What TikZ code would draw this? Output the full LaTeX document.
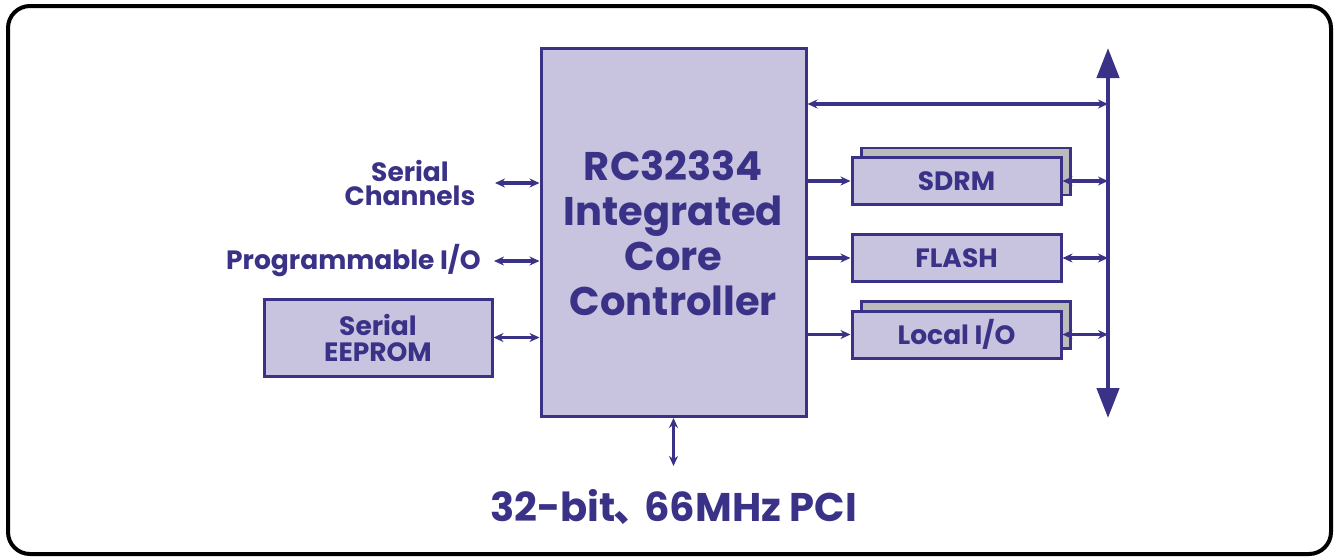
\documentclass[tikz,border=0pt]{standalone}
\usepackage{fontspec}
\setmainfont{Poppins}
\newfontfamily\cjk{Noto Sans CJK SC}
\usetikzlibrary{arrows.meta}
\definecolor{ink}{HTML}{3A3287}
\definecolor{chip}{HTML}{C8C4E0}
\definecolor{shade}{HTML}{BBBBBB}
\tikzset{
	blk/.style={draw=ink, fill=chip, line width=3pt, minimum width=209pt, minimum height=47pt, inner sep=0, text=ink, font=\fontsize{26.5}{26}\selectfont\bfseries},
	shadowblk/.style={draw=ink, fill=shade, line width=2.5pt, minimum width=209pt, minimum height=47pt, inner sep=0},
	lbl/.style={text=ink, align=center, inner sep=0, font=\fontsize{26.5}{24}\selectfont\bfseries},
	lnk/.style={ink, line width=3.2pt, {Stealth[length=10pt,width=9pt]}-{Stealth[length=10pt,width=9pt]}},
	feed/.style={ink, line width=3.2pt, -{Stealth[length=10pt,width=9pt]}},
}
\begin{document}
\begin{tikzpicture}[x=1pt, y=-1pt]
			\useasboundingbox (0,0) rectangle (1335,558);
			\draw[black, line width=4pt, rounded corners=22pt] (8,6) rectangle (1331,554);
			% core block
			\node[draw=ink, fill=chip, line width=3pt, minimum width=265pt, minimum height=368pt, inner sep=0] (core) at (673.5,232){};
			\node[text=ink, align=center, font=\fontsize{40}{45}\selectfont\bfseries] (coretext) at (673.5,233){RC32334\\Integrated\\Core\\Controller};
			% left side
			\node[lbl] (chan) at (410,183){Serial\\Channels};
			\node[lbl, anchor=east] (pio) at (481,261){Programmable I/O};
			\node[blk, minimum width=228pt, minimum height=77pt, align=center] (eeprom) at (378,337.5){Serial\\EEPROM};
			\coordinate (chanend) at (495,183);
			\coordinate (pioend) at (494,261);
			\draw[lnk] (chanend) -- (chanend -| core.west);
			\draw[lnk] (pioend) -- (pioend -| core.west);
			\draw[lnk] (eeprom.east) -- (eeprom.east -| core.west);
			% PCI
			\node[text=ink, inner sep=0, font=\fontsize{40}{40}\selectfont\bfseries] (pci) at (673.5,507){32-bit\kern-2pt{\cjk 、}\kern-9pt 66MHz PCI};
			\coordinate (pciend) at (673.5,466);
			\draw[lnk, line width=2.5pt] (core.south |- 0,418) -- (pciend);
			% memory bus
			\coordinate (bustop) at (1108,48);
			\coordinate (busbot) at (1108,418);
			\draw[ink, line width=4.5pt, {Triangle[length=30pt,width=22pt]}-{Triangle[length=30pt,width=22pt]}] (bustop) -- (busbot);
			\coordinate (tap) at (1108,104);
			\draw[lnk] (tap -| core.east) -- (tap);
			\foreach \y/\name/\txt/\sh in {181/sdrm/SDRM/1, 258/flash/FLASH/0, 334.5/lio/{Local I/O}/1}
				{
					\ifnum\sh=1
						\node[shadowblk] () at (966,\y-9.5){};
					\fi
					\node[blk] (\name) at (956.5,\y){\txt};
					\draw[feed] (\name.west -| core.east) -- (\name.west);
					\draw[lnk] (\name.east) -- (\name.east -| bustop);
				}
		\end{tikzpicture}
\end{document}
